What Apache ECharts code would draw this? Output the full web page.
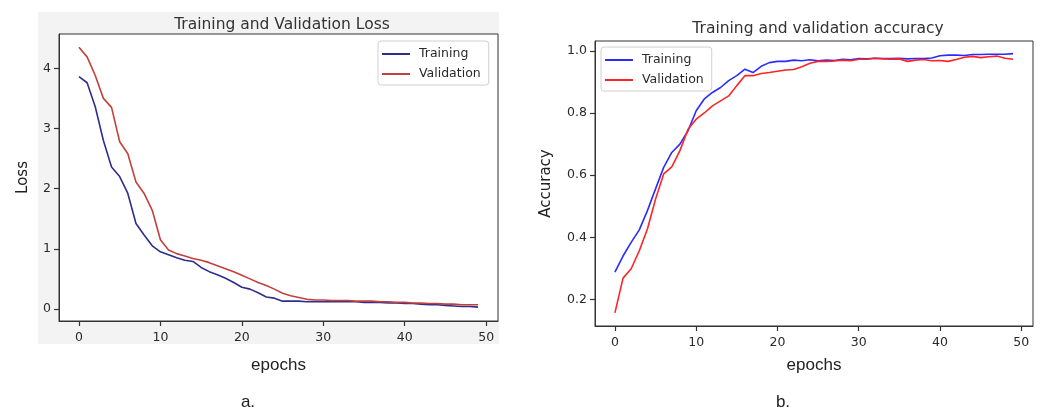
<!DOCTYPE html>
<html>
<head>
<meta charset="utf-8">
<script src="https://cdn.jsdelivr.net/npm/echarts@6/dist/echarts.min.js"></script>
<style>
  html, body { margin: 0; padding: 0; background: #fff; }
  #main { width: 1040px; height: 412px; }
</style>
</head>
<body>
<div id="main"></div>
<script>
let epochs = [0,1,2,3,4,5,6,7,8,9,10,11,12,13,14,15,16,17,18,19,20,21,22,23,24,
  25,26,27,28,29,30,31,32,33,34,35,36,37,38,39,40,41,42,43,44,45,46,47,48,49];

let lossTrain = [3.86,3.76,3.36,2.80,2.36,2.20,1.92,1.42,1.23,1.05,0.95,0.90,0.85,0.81,0.79,
  0.69,0.62,0.57,0.51,0.44,0.36,0.33,0.27,0.20,0.18,0.13,0.13,0.13,0.12,0.12,
  0.12,0.12,0.12,0.12,0.12,0.11,0.11,0.11,0.10,0.10,0.09,0.09,0.08,0.07,0.07,
  0.06,0.05,0.04,0.04,0.03];
let lossVal = [4.35,4.19,3.88,3.50,3.35,2.78,2.58,2.11,1.92,1.64,1.15,0.98,0.92,0.88,0.84,
  0.81,0.77,0.72,0.67,0.62,0.56,0.50,0.44,0.39,0.33,0.26,0.22,0.19,0.16,0.15,
  0.15,0.14,0.14,0.14,0.13,0.13,0.13,0.12,0.12,0.11,0.11,0.10,0.10,0.09,0.09,
  0.08,0.08,0.07,0.07,0.07];

let accTrain = [0.288,0.340,0.384,0.424,0.486,0.556,0.625,0.673,0.700,0.743,0.807,0.845,0.866,0.882,0.904,
  0.920,0.941,0.930,0.950,0.962,0.966,0.966,0.970,0.968,0.971,0.968,0.970,0.969,0.973,0.971,
  0.975,0.974,0.976,0.975,0.975,0.976,0.974,0.975,0.975,0.977,0.984,0.986,0.986,0.985,0.988,
  0.988,0.989,0.989,0.989,0.991];
let accVal = [0.157,0.269,0.299,0.357,0.427,0.523,0.604,0.627,0.679,0.748,0.780,0.800,0.823,0.839,0.855,
  0.888,0.920,0.920,0.927,0.930,0.934,0.938,0.940,0.949,0.960,0.966,0.966,0.967,0.970,0.968,
  0.973,0.973,0.976,0.974,0.973,0.974,0.966,0.970,0.972,0.968,0.969,0.966,0.972,0.979,0.982,
  0.978,0.981,0.983,0.976,0.973];

let epochTicks = [0, 10, 20, 30, 40, 50];
let lossTicks = [0, 1, 2, 3, 4];
let accTicks = [0.2, 0.4, 0.6, 0.8, 1.0];

let lossColors = ["#2e2f8c", "#c4403d"];
let accColors = ["#2b2bff", "#ff2424"];

function pairs(ys) {
  return ys.map((y, i) => [epochs[i], y]);
}

let tickFont = {
  color: "#2a2a2a",
  fontSize: 12.5,
  fontFamily: "DejaVu Sans"
};

// the grid border already draws the box, the axis line just sits on it
let spine = { show: true, onZero: false, lineStyle: { color: "#333", width: 1 } };
let tickStyle = { color: "#333", width: 1.2 };

function xAxisFor(gridIndex, gap) {
  return {
    gridIndex: gridIndex,
    type: "value",
    min: -2.45,
    max: 51.45,
    name: "epochs",
    nameLocation: "middle",
    nameGap: gap,
    nameTextStyle: { color: "#222", fontSize: 17, fontFamily: "Liberation Sans" },
    axisLine: spine,
    splitLine: { show: false },
    axisTick: { show: true, inside: false, length: 5, customValues: epochTicks, lineStyle: tickStyle },
    axisLabel: Object.assign({ margin: 10, customValues: epochTicks }, tickFont)
  };
}

function legendFor(x, y, colors) {
  return {
    left: x, top: y,
    orient: "vertical",
    icon: "rect",
    itemWidth: 28, itemHeight: 2, itemGap: 6,
    padding: [6, 8, 4, 4],
    borderColor: "#d0d0d0", borderWidth: 1, borderRadius: 3,
    backgroundColor: "rgba(255,255,255,0.85)",
    textStyle: { fontSize: 12.5, lineHeight: 14, color: "#2a2a2a", fontFamily: "DejaVu Sans", padding: [0, 0, 0, 4] },
    data: [
      { name: "Training", itemStyle: { color: colors[0] } },
      { name: "Validation", itemStyle: { color: colors[1] } }
    ]
  };
}

let option = {
  animation: false,
  backgroundColor: "#fff",
  graphic: [
    {
      type: "rect",
      z: -10,
      silent: true,
      shape: { x: 38, y: 12, width: 461, height: 332 },
      style: { fill: "#f3f3f3" }
    }
  ],
  title: [
    {
      text: "Training and Validation Loss",
      left: 277, top: 12, textAlign: "center",
      textStyle: { fontSize: 15.5, fontWeight: "normal", color: "#333", fontFamily: "DejaVu Sans" }
    },
    {
      text: "Training and validation accuracy",
      left: 813, top: 16, textAlign: "center",
      textStyle: { fontSize: 15.5, fontWeight: "normal", color: "#333", fontFamily: "DejaVu Sans" }
    },
    {
      text: "a.",
      left: 243, top: 389, textAlign: "center",
      textStyle: { fontSize: 17, fontWeight: "normal", color: "#222", fontFamily: "Liberation Sans" }
    },
    {
      text: "b.",
      left: 778, top: 389, textAlign: "center",
      textStyle: { fontSize: 17, fontWeight: "normal", color: "#222", fontFamily: "Liberation Sans" }
    }
  ],
  legend: [
    legendFor(378, 41, lossColors),
    legendFor(601, 47, accColors)
  ],
  grid: [
    {
      left: 59, top: 34, width: 439, height: 287,
      show: true, backgroundColor: "#fff", borderColor: "#333", borderWidth: 1
    },
    {
      left: 595, top: 41, width: 438, height: 285,
      show: true, backgroundColor: "#fff", borderColor: "#333", borderWidth: 1
    }
  ],
  xAxis: [xAxisFor(0, 36), xAxisFor(1, 31)],
  yAxis: [
    {
      gridIndex: 0,
      type: "value",
      min: -0.2,
      max: 4.57,
      name: "Loss",
      nameLocation: "middle",
      nameGap: 28,
      nameTextStyle: { color: "#222", fontSize: 15, fontFamily: "DejaVu Sans" },
      axisLine: spine,
      splitLine: { show: false },
      axisTick: { show: true, inside: false, length: 5, customValues: lossTicks, lineStyle: tickStyle },
      axisLabel: Object.assign({ margin: 8, customValues: lossTicks }, tickFont)
    },
    {
      gridIndex: 1,
      type: "value",
      min: 0.115,
      max: 1.0315,
      name: "Accuracy",
      nameLocation: "middle",
      nameGap: 41,
      nameTextStyle: { color: "#222", fontSize: 15, fontFamily: "DejaVu Sans" },
      axisLine: spine,
      splitLine: { show: false },
      axisTick: { show: true, inside: false, length: 5, customValues: accTicks, lineStyle: tickStyle },
      axisLabel: Object.assign({
        margin: 8,
        customValues: accTicks,
        formatter: v => v.toFixed(1)
      }, tickFont)
    }
  ],
  series: [
    {
      name: "Training", type: "line", xAxisIndex: 0, yAxisIndex: 0,
      showSymbol: false, data: pairs(lossTrain),
      lineStyle: { width: 1.6, color: lossColors[0] }, itemStyle: { color: lossColors[0] }
    },
    {
      name: "Validation", type: "line", xAxisIndex: 0, yAxisIndex: 0,
      showSymbol: false, data: pairs(lossVal),
      lineStyle: { width: 1.6, color: lossColors[1] }, itemStyle: { color: lossColors[1] }
    },
    {
      name: "Training", type: "line", xAxisIndex: 1, yAxisIndex: 1,
      showSymbol: false, data: pairs(accTrain),
      lineStyle: { width: 1.6, color: accColors[0] }, itemStyle: { color: accColors[0] }
    },
    {
      name: "Validation", type: "line", xAxisIndex: 1, yAxisIndex: 1,
      showSymbol: false, data: pairs(accVal),
      lineStyle: { width: 1.6, color: accColors[1] }, itemStyle: { color: accColors[1] }
    }
  ]
};

let myChart = echarts.init(document.getElementById("main"), null, { renderer: "canvas" });
myChart.setOption(option);
</script>
</body>
</html>
